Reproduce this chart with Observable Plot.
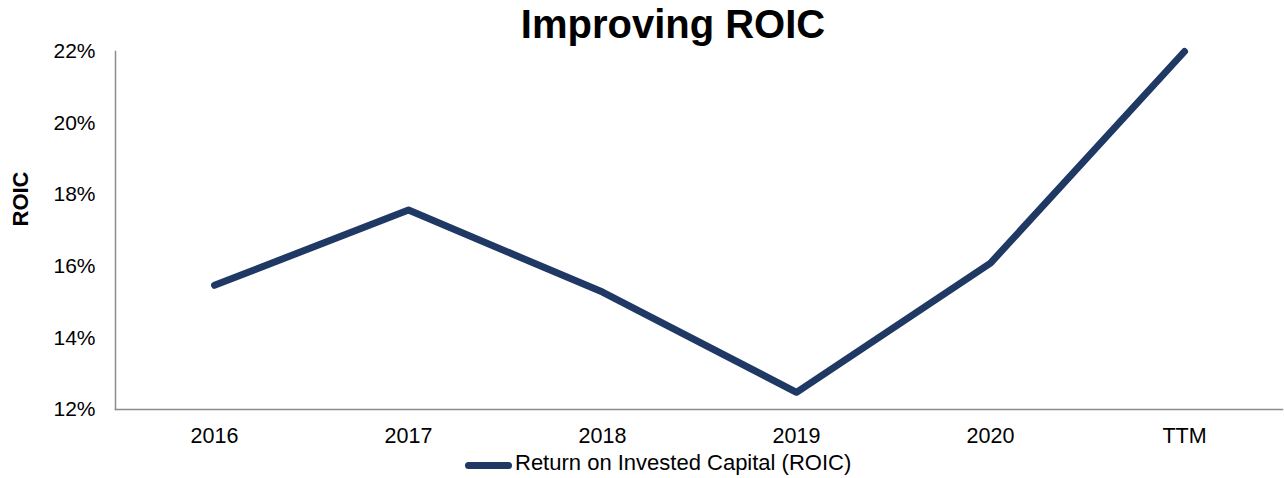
<!DOCTYPE html>
<html>
<head>
<meta charset="utf-8">
<script src="https://cdn.jsdelivr.net/npm/d3@7"></script>
<script src="https://cdn.jsdelivr.net/npm/@observablehq/plot@0.6"></script>
<style>
  body { margin: 0; background: #fff; font-family: "Liberation Sans", Arial, sans-serif; }
  #wrap { width: 1284px; height: 478px; overflow: hidden; }
  #title { position: relative; z-index: 2; height: 30px; box-sizing: border-box; padding-top: 4px; line-height: 40px;
           overflow: visible; text-align: center; font-size: 40px; font-weight: bold; color: #000; padding-left: 62px; white-space: nowrap; }
  #chart svg { display: block; }
  #legend { height: 30px; position: relative; font-size: 22px; color: #000; }
  #legend .sw { position: absolute; left: 465px; top: 14px; width: 47px; height: 7px; border-radius: 4px; background: #1f3864; }
  #legend .tx { position: absolute; left: 515px; top: 3px; line-height: 24px; white-space: nowrap; }
</style>
</head>
<body>
<div id="wrap">
  <div id="title">Improving ROIC</div>
  <div id="chart"></div>
  <div id="legend"><div class="sw"></div><div class="tx">Return on Invested Capital (ROIC)</div></div>
</div>
<script>
const periods = ["2016", "2017", "2018", "2019", "2020", "TTM"];
const roic = [15.47, 17.57, 15.28, 12.48, 16.09, 22.0];
const yTicks = [12, 14, 16, 18, 20, 22];
const seriesName = "Return on Invested Capital (ROIC)";

const data = periods.map((p, i) => ({period: p, value: roic[i]}));

const chart = Plot.plot({
  width: 1284,
  height: 418,
  marginTop: 21,
  marginBottom: 39,
  marginLeft: 115,
  marginRight: 2,
  style: {fontFamily: "'Liberation Sans', Arial, sans-serif", fontSize: "21px", color: "#000", background: "transparent"},
  x: {type: "point", domain: periods, padding: 0.5},
  y: {domain: [12, 22]},
  marks: [
    Plot.frame({anchor: "left", stroke: "#8c8c8c", strokeWidth: 1.5}),
    Plot.frame({anchor: "bottom", stroke: "#8c8c8c", strokeWidth: 1.5}),
    Plot.axisX({tickSize: 0, tickPadding: 18, label: null, fontSize: 21.5}),
    Plot.axisY({ticks: yTicks, tickSize: 0, tickPadding: 20, tickFormat: d => d + "%", label: null, fontSize: 21}),
    Plot.text(["ROIC"], {frameAnchor: "left", rotate: -90, dx: -95, dy: -4, fontWeight: "bold", fontSize: 22, fill: "#000"}),
    Plot.line(data, {x: "period", y: "value", stroke: "#1f3864", strokeWidth: 7, strokeLinecap: "round", strokeLinejoin: "round"})
  ]
});
document.getElementById("chart").append(chart);
</script>
</body>
</html>
